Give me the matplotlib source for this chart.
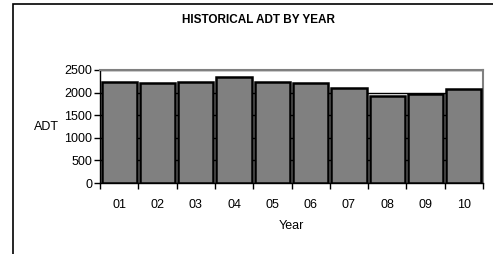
import matplotlib
matplotlib.use("Agg")
import matplotlib.pyplot as plt
from matplotlib.patches import Rectangle
import numpy as np

years = ["01", "02", "03", "04", "05", "06", "07", "08", "09", "10"]
adt = [2235, 2220, 2240, 2345, 2235, 2220, 2095, 1930, 1975, 2070]
yticks = [0, 500, 1000, 1500, 2000, 2500]

plt.rcParams['font.family'] = ['Liberation Sans', 'DejaVu Sans']

fig = plt.figure(figsize=(4.93, 2.54), dpi=100)
W, H = 493, 254
# outer frame
fig.patches.append(Rectangle((13 / W, -0.1), 1.2, (254 - 4) / H + 0.1, transform=fig.transFigure,
                             fill=False, edgecolor='black', linewidth=1.2))

ax = fig.add_axes([100 / W, (254 - 183) / H, (483 - 100) / W, (183 - 70) / H])
x = np.arange(len(years))
ax.bar(x, adt, width=0.92, color='#808080', edgecolor='black', linewidth=1.8, zorder=3)
ax.set_xlim(-0.5, len(years) - 0.5)
ax.set_ylim(0, 2500)
ax.set_yticks(yticks)
ax.set_yticklabels([str(v) for v in yticks], fontsize=9)
ax.set_xticks(x)
ax.set_xticklabels(years, fontsize=9)
ax.set_xticks(np.arange(-0.5, len(years)), minor=True)
ax.tick_params(axis='x', which='major', length=0, pad=11.5)
ax.tick_params(axis='x', which='minor', length=4, direction='out', width=1)
ax.tick_params(axis='y', length=4, direction='out', width=1, pad=1.5)
ax.yaxis.grid(True, color='black', linewidth=1, zorder=0)
ax.set_axisbelow(True)
for s in ['left', 'bottom']:
    ax.spines[s].set_color('black')
    ax.spines[s].set_linewidth(1)
for s in ['top', 'right']:
    ax.spines[s].set_color('#808080')
    ax.spines[s].set_linewidth(1.5)
ax.set_xlabel('Year', fontsize=9, labelpad=6.5)
ax.set_ylabel('ADT', fontsize=9, rotation=0, labelpad=13, va='center')
fig.text(259 / W, (254 - 20) / H, 'HISTORICAL ADT BY YEAR', ha='center', va='center',
         fontsize=8.5, fontweight='bold')
fig.savefig('out.png', dpi=100)
